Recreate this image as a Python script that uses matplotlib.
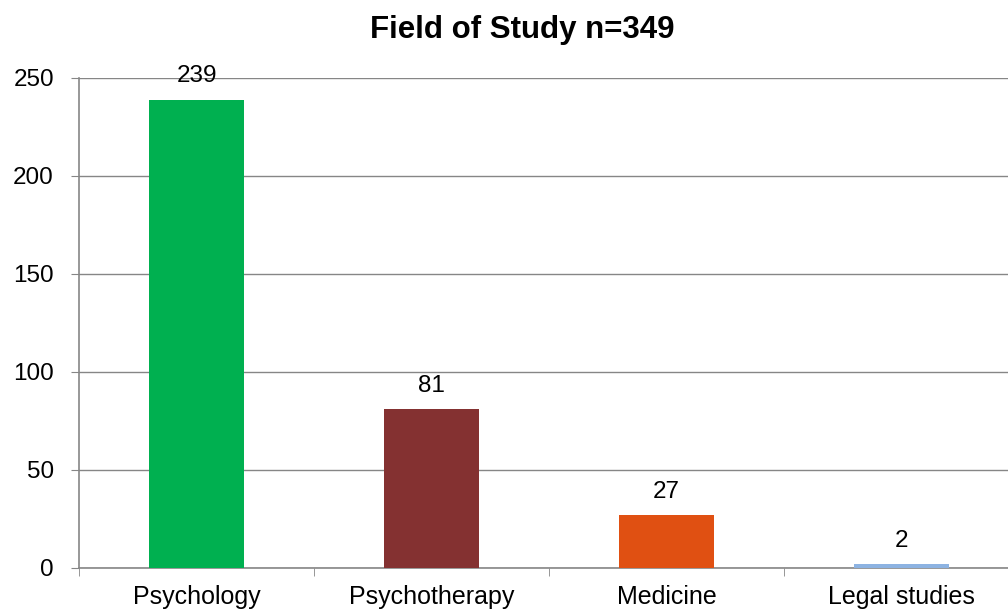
import matplotlib
matplotlib.use("Agg")
import matplotlib.pyplot as plt
from matplotlib.ticker import FixedLocator

# data
categories = ["Psychology", "Psychotherapy", "Medicine", "Legal studies"]
counts = [239, 81, 27, 2]
colors = ["#00B050", "#843131", "#E05012", "#8DB3E2"]
y_ticks = [0, 50, 100, 150, 200, 250]

plt.rcParams['font.family'] = ['Liberation Sans', 'DejaVu Sans']

fig = plt.figure(figsize=(10.08, 6.12), dpi=100)
# plot area runs past the right edge, as in the original
ax = fig.add_axes([79 / 1008, 44 / 612, 940 / 1008, 490 / 612])

x = list(range(len(categories)))
bars = ax.bar(x, counts, width=0.405, color=colors, zorder=3)

for xi, v in zip(x, counts):
    ax.annotate(str(v), (xi, v), xytext=(0, 9), textcoords="offset points",
                ha="center", va="bottom", fontsize=17.5)

ax.set_xlim(-0.5, len(categories) - 0.5)
ax.set_ylim(0, 250)
ax.set_yticks(y_ticks)
ax.tick_params(axis="y", labelsize=17.5, length=6, color="#868686", pad=12)

# category labels centred, tick marks between categories
ax.set_xticks(x)
ax.set_xticklabels(categories, fontsize=18)
ax.tick_params(axis="x", which="major", length=0, pad=12)
ax.xaxis.set_minor_locator(FixedLocator([i - 0.5 for i in range(len(categories) + 1)]))
ax.tick_params(axis="x", which="minor", length=6, color="#868686")

ax.grid(axis="y", color="#868686", linewidth=1, zorder=0)
for side in ["top", "right"]:
    ax.spines[side].set_visible(False)
for side in ["left", "bottom"]:
    ax.spines[side].set_color("#868686")
    ax.spines[side].set_linewidth(1.2)

fig.text(522 / 1008, 1 - 30 / 612, "Field of Study n=349", ha="center", va="center",
         fontsize=22.5, fontweight="bold")

fig.savefig("out.png", dpi=100)
